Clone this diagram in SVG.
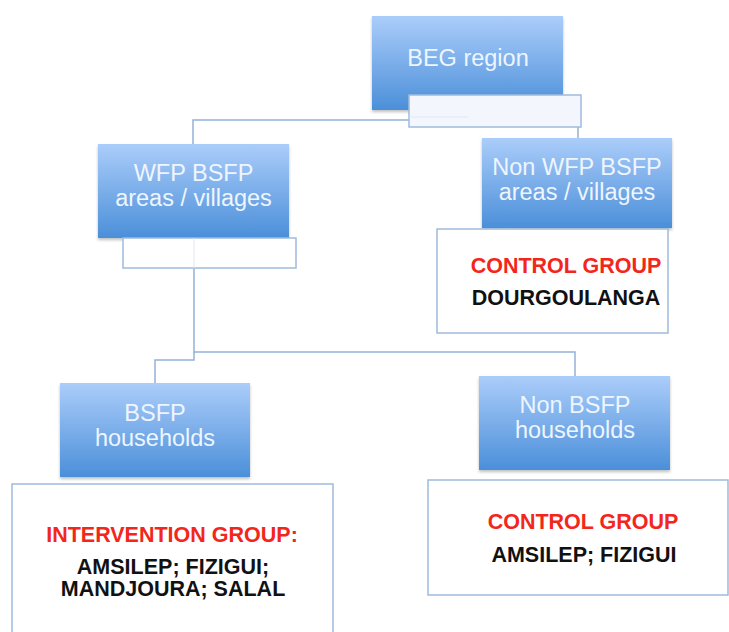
<svg xmlns="http://www.w3.org/2000/svg" width="729" height="632" viewBox="0 0 729 632">
<defs>
<linearGradient id="blue" x1="0" y1="0" x2="0" y2="1">
<stop offset="0" stop-color="#abcdfa"/>
<stop offset="1" stop-color="#4b8fd9"/>
</linearGradient>
<filter id="sh" x="-10%" y="-10%" width="120%" height="130%">
<feDropShadow dx="0" dy="2" stdDeviation="1.5" flood-color="#000" flood-opacity="0.25"/>
</filter>
</defs>
<style>
.bx{fill:url(#blue);filter:url(#sh);}
.wt{fill:#fff;stroke:#9fbadb;stroke-width:1.5;}
.wl{fill:#f3f7fd;stroke:#9fbadb;stroke-width:1.5;}
.bt{font-family:"Liberation Sans",Arial,sans-serif;font-size:23.5px;fill:#eef5ff;text-anchor:middle;}
.rt{font-family:"Liberation Sans",Arial,sans-serif;font-size:21.5px;font-weight:bold;fill:#f3261b;text-anchor:middle;}
.kt{font-family:"Liberation Sans",Arial,sans-serif;font-size:21.5px;font-weight:bold;fill:#111;text-anchor:middle;}
.cn{fill:none;stroke:#93b2d6;stroke-width:1.5;}
</style>
<g id="connectors">
<polyline class="cn" points="409,120 193,120 193,144"/>
<polyline class="cn" points="578,127 578,138"/>
<polyline class="cn" points="194,268 194,352 575,352 575,376"/>
<polyline class="cn" points="194,352 194,360 155,360 155,383"/>
</g>
<g id="beg">
<rect class="bx" x="372" y="16" width="191" height="94"/>
<rect class="wl" x="409" y="95" width="172" height="32"/>
<line x1="409" y1="117" x2="468" y2="117" stroke="#dfe8f4" stroke-width="1"/>
<text class="bt" x="468" y="66">BEG region</text>
</g>
<g id="wfp">
<rect class="bx" x="98" y="144" width="191" height="94"/>
<rect class="wt" x="123" y="238" width="173" height="30"/>
<line x1="194" y1="238" x2="194" y2="268" stroke="#dfe8f4" stroke-width="1"/>
<text class="bt" x="193.5" y="181">WFP BSFP</text>
<text class="bt" x="193.5" y="206">areas / villages</text>
</g>
<g id="nonwfp">
<rect class="bx" x="482" y="138" width="190" height="90"/>
<text class="bt" x="577" y="175">Non WFP BSFP</text>
<text class="bt" x="577" y="200">areas / villages</text>
</g>
<g id="control1">
<rect class="wt" x="437" y="229" width="231" height="104"/>
<text class="rt" x="566" y="273">CONTROL GROUP</text>
<text class="kt" x="566" y="305">DOURGOULANGA</text>
</g>
<g id="bsfp">
<rect class="bx" x="60" y="383" width="190" height="94"/>
<text class="bt" x="155" y="421">BSFP</text>
<text class="bt" x="155" y="446">households</text>
</g>
<g id="intervention">
<rect class="wt" x="12" y="484" width="321" height="160"/>
<text class="rt" x="172" y="542">INTERVENTION GROUP:</text>
<text class="kt" x="173" y="574">AMSILEP; FIZIGUI;</text>
<text class="kt" x="173" y="596">MANDJOURA; SALAL</text>
</g>
<g id="nonbsfp">
<rect class="bx" x="479" y="376" width="191" height="94"/>
<text class="bt" x="575" y="413">Non BSFP</text>
<text class="bt" x="575" y="438">households</text>
</g>
<g id="control2">
<rect class="wt" x="428" y="480" width="300" height="115"/>
<text class="rt" x="583" y="529">CONTROL GROUP</text>
<text class="kt" x="584" y="562">AMSILEP; FIZIGUI</text>
</g>
</svg>
